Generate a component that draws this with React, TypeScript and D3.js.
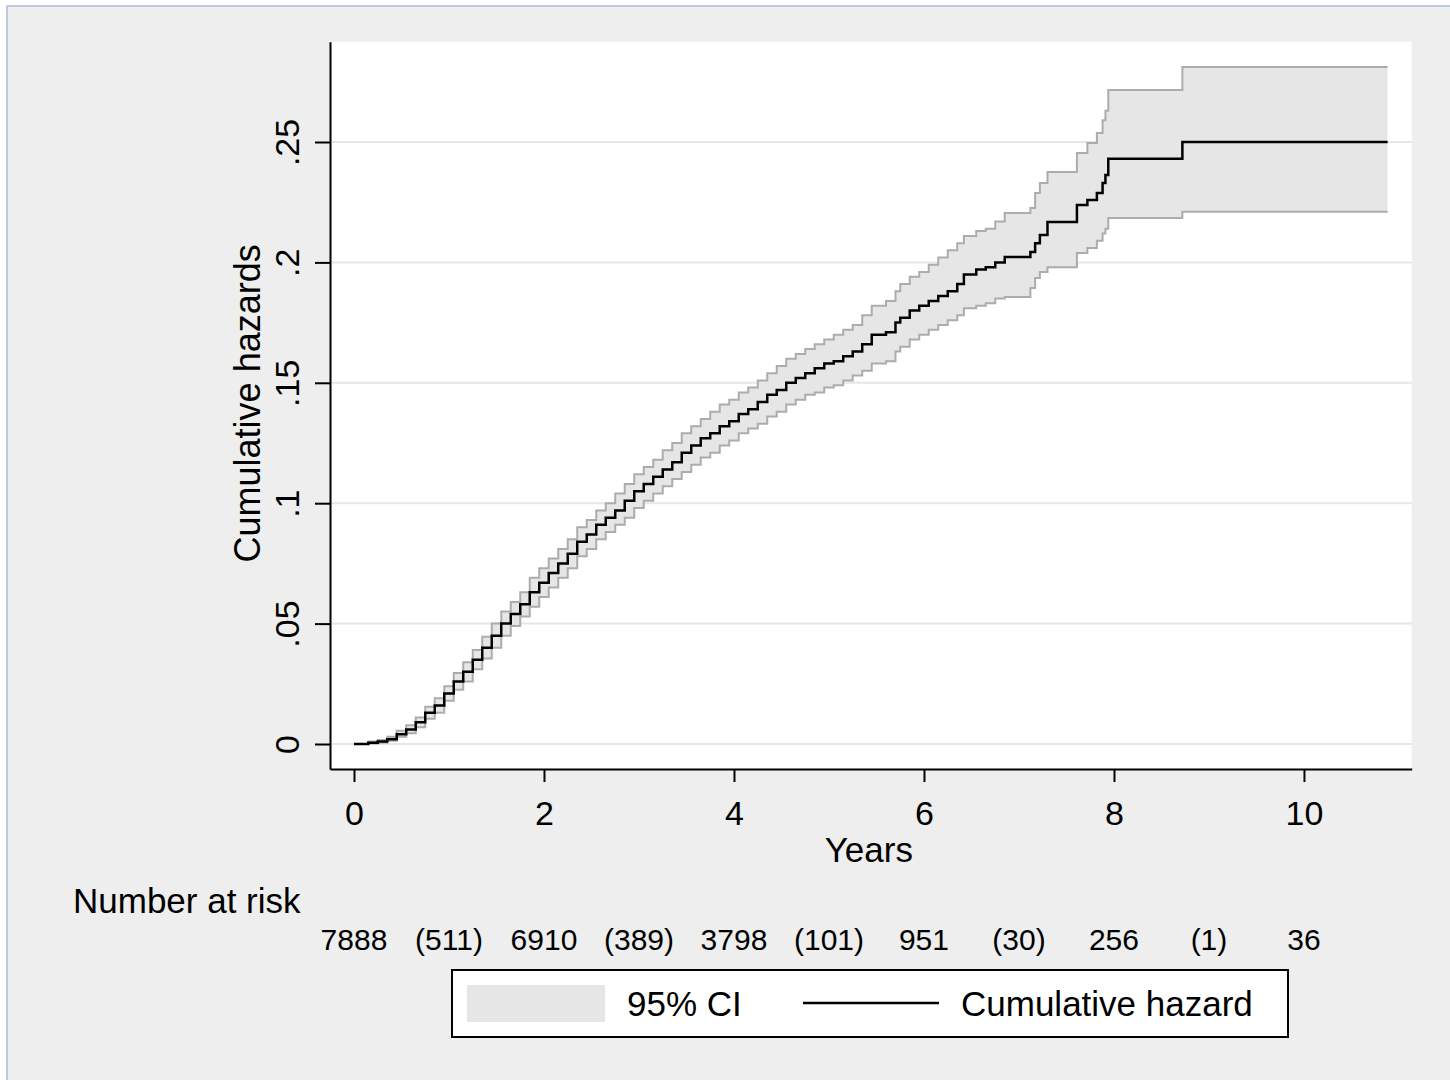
import React, { useRef, useEffect } from 'react';
import * as d3 from 'd3';

// Nelson-Aalen cumulative hazard
const years = [
  0.0, 0.15, 0.25, 0.35, 0.45, 0.55, 0.65, 0.75, 0.85, 0.95,
  1.05, 1.15, 1.25, 1.35, 1.45, 1.55, 1.65, 1.75, 1.85, 1.95,
  2.05, 2.15, 2.25, 2.35, 2.45, 2.55, 2.65, 2.75, 2.85, 2.95,
  3.05, 3.15, 3.25, 3.35, 3.45, 3.55, 3.65, 3.75, 3.85, 3.95,
  4.05, 4.15, 4.25, 4.35, 4.45, 4.55, 4.65, 4.75, 4.85, 4.95,
  5.05, 5.15, 5.25, 5.35, 5.45, 5.6, 5.7, 5.75, 5.85, 5.95,
  6.05, 6.15, 6.25, 6.35, 6.42, 6.55, 6.65, 6.75, 6.85, 7.12,
  7.17, 7.22, 7.3, 7.61, 7.72, 7.82, 7.88, 7.91, 7.94, 8.72,
  10.88,
];

const cumHazard = [
  0.0, 0.0005, 0.001, 0.002, 0.004, 0.006, 0.009, 0.013, 0.016, 0.021,
  0.026, 0.03, 0.035, 0.04, 0.045, 0.05, 0.054, 0.058, 0.063, 0.067,
  0.071, 0.075, 0.079, 0.084, 0.087, 0.091, 0.094, 0.097, 0.101, 0.105,
  0.108, 0.111, 0.114, 0.117, 0.121, 0.124, 0.127, 0.129, 0.132, 0.134,
  0.137, 0.139, 0.142, 0.145, 0.147, 0.15, 0.152, 0.154, 0.156, 0.158,
  0.159, 0.161, 0.163, 0.166, 0.17, 0.171, 0.175, 0.177, 0.18, 0.182,
  0.184, 0.186, 0.188, 0.191, 0.195, 0.197, 0.198, 0.2, 0.2022, 0.2043,
  0.208, 0.2114, 0.2168, 0.2238, 0.2259, 0.2288, 0.233, 0.2363, 0.243, 0.25,
  0.25,
];

const ciLower = [
  0.0, 0.0002, 0.0005, 0.0013, 0.003, 0.0045, 0.007, 0.0105, 0.013, 0.018,
  0.0225, 0.026, 0.031, 0.0355, 0.04, 0.045, 0.049, 0.053, 0.057, 0.061,
  0.065, 0.069, 0.073, 0.078, 0.081, 0.085, 0.088, 0.091, 0.094, 0.098,
  0.101, 0.104, 0.107, 0.11, 0.113, 0.116, 0.119, 0.121, 0.124, 0.126,
  0.129, 0.131, 0.133, 0.136, 0.138, 0.141, 0.143, 0.145, 0.146, 0.148,
  0.149, 0.151, 0.153, 0.155, 0.158, 0.159, 0.163, 0.165, 0.168, 0.17,
  0.172, 0.174, 0.176, 0.178, 0.181, 0.182, 0.183, 0.185, 0.1856, 0.1894,
  0.1935, 0.196, 0.198, 0.2039, 0.206, 0.209, 0.212, 0.214, 0.2184, 0.221,
  0.221,
];

const ciUpper = [
  0.0, 0.001, 0.0017, 0.003, 0.0055, 0.0078, 0.011, 0.0155, 0.019, 0.024,
  0.0295, 0.034, 0.039, 0.0445, 0.05, 0.055, 0.059, 0.063, 0.069, 0.073,
  0.077, 0.081, 0.085, 0.09, 0.093, 0.097, 0.1, 0.104, 0.108, 0.112,
  0.115, 0.118, 0.122, 0.125, 0.129, 0.132, 0.135, 0.138, 0.141, 0.143,
  0.146, 0.148, 0.151, 0.154, 0.157, 0.16, 0.162, 0.164, 0.166, 0.168,
  0.17, 0.172, 0.174, 0.178, 0.182, 0.184, 0.188, 0.191, 0.194, 0.196,
  0.199, 0.202, 0.205, 0.208, 0.211, 0.213, 0.214, 0.217, 0.2205, 0.2226,
  0.2288, 0.233, 0.2375, 0.2454, 0.2496, 0.2537, 0.259, 0.263, 0.2716, 0.2811,
  0.2811,
];

// number at risk table
const riskYears = [0, 2, 4, 6, 8, 10];
const atRisk = [7888, 6910, 3798, 951, 256, 36];
const censorYears = [1, 3, 5, 7, 9];
const censored = [511, 389, 101, 30, 1];

const xTicks = [0, 2, 4, 6, 8, 10];
const yTicks = [0, 0.05, 0.1, 0.15, 0.2, 0.25];
const yTickLabels = ['0', '.05', '.1', '.15', '.2', '.25'];

const W = 1450;
const H = 1080;
const FONT = '"Liberation Sans", Arial, sans-serif';

const App = () => {
  const ref = useRef<SVGSVGElement>(null);

  useEffect(() => {
    const svg = d3.select(ref.current);
    svg.selectAll('*').remove();

    // page background + thin window border
    svg.append('rect').attr('width', W).attr('height', H).attr('fill', '#ffffff');
    svg.append('rect')
      .attr('x', 7).attr('y', 6)
      .attr('width', W - 7).attr('height', H - 6)
      .attr('fill', '#eeeeee');
    svg.append('path')
      .attr('d', `M7,${H} V6 H${W}`)
      .attr('fill', 'none')
      .attr('stroke', '#a9bdd8')
      .attr('stroke-width', 1.5);

    const plot = { left: 330, right: 1411.7, top: 41.7, bottom: 769 };
    const x = d3.scaleLinear().domain([-0.2526, 11.134]).range([plot.left, plot.right]);
    const y = d3.scaleLinear().domain([-0.01038, 0.29165]).range([plot.bottom, plot.top]);

    svg.append('rect')
      .attr('x', plot.left).attr('y', plot.top)
      .attr('width', plot.right - plot.left).attr('height', plot.bottom - plot.top)
      .attr('fill', '#ffffff');

    // gridlines
    svg.append('g')
      .selectAll('line')
      .data(yTicks)
      .enter()
      .append('line')
      .attr('x1', plot.left).attr('x2', plot.right)
      .attr('y1', d => y(d)).attr('y2', d => y(d))
      .attr('stroke', '#e6e6e6')
      .attr('stroke-width', 2);

    const data = years.map((t, i) => ({ t, h: cumHazard[i], lo: ciLower[i], hi: ciUpper[i] }));

    const area = d3.area<any>()
      .x(d => x(d.t))
      .y0(d => y(d.lo))
      .y1(d => y(d.hi))
      .curve(d3.curveStepAfter);

    svg.append('path')
      .datum(data)
      .attr('fill', '#e6e6e6')
      .attr('d', area);

    const bound = (key: 'lo' | 'hi') => d3.line<any>()
      .x(d => x(d.t))
      .y(d => y(d[key]))
      .curve(d3.curveStepAfter);

    ['lo', 'hi'].forEach(k => {
      svg.append('path')
        .datum(data)
        .attr('fill', 'none')
        .attr('stroke', '#acacac')
        .attr('stroke-width', 2)
        .attr('d', bound(k as 'lo' | 'hi'));
    });

    const hazardLine = d3.line<any>()
      .x(d => x(d.t))
      .y(d => y(d.h))
      .curve(d3.curveStepAfter);

    svg.append('path')
      .datum(data)
      .attr('fill', 'none')
      .attr('stroke', '#000000')
      .attr('stroke-width', 2.5)
      .attr('d', hazardLine);

    // axes
    const yAxis = d3.axisLeft(y)
      .tickValues(yTicks)
      .tickSize(15)
      .tickSizeOuter(0)
      .tickFormat((d, i) => yTickLabels[i]);
    const gy = svg.append('g')
      .attr('transform', `translate(${plot.left},0)`)
      .call(yAxis);
    gy.selectAll('text')
      .attr('x', 0).attr('y', 0).attr('dy', 0)
      .attr('text-anchor', 'middle')
      .attr('transform', `translate(-31,0) rotate(-90)`)
      .style('font-family', FONT)
      .style('font-size', '34px')
      .style('fill', '#000');

    const xAxis = d3.axisBottom(x)
      .tickValues(xTicks)
      .tickSize(13)
      .tickSizeOuter(0)
      .tickFormat(d3.format('d'));
    const gx = svg.append('g')
      .attr('transform', `translate(0,${plot.bottom})`)
      .call(xAxis);
    gx.selectAll('text')
      .attr('y', 56).attr('dy', 0)
      .style('font-family', FONT)
      .style('font-size', '34px')
      .style('fill', '#000');

    svg.selectAll('.domain').attr('stroke', '#000').attr('stroke-width', 2);
    svg.selectAll('.tick line').attr('stroke', '#000').attr('stroke-width', 2);

    // axis titles
    svg.append('text')
      .attr('transform', `translate(260,${(plot.top + plot.bottom) / 2 - 2}) rotate(-90)`)
      .attr('text-anchor', 'middle')
      .style('font-family', FONT)
      .style('font-size', '36px')
      .text('Cumulative hazards');

    svg.append('text')
      .attr('x', (plot.left + plot.right) / 2 - 2)
      .attr('y', 862)
      .attr('text-anchor', 'middle')
      .style('font-family', FONT)
      .style('font-size', '35px')
      .text('Years');

    // number at risk
    svg.append('text')
      .attr('x', 73).attr('y', 913)
      .style('font-family', FONT)
      .style('font-size', '35px')
      .text('Number at risk');

    const riskRow = svg.append('g')
      .style('font-family', FONT)
      .style('font-size', '30px')
      .attr('text-anchor', 'middle');
    riskRow.selectAll('.n')
      .data(riskYears)
      .enter()
      .append('text')
      .attr('x', d => x(d))
      .attr('y', 950)
      .text((d, i) => atRisk[i]);
    riskRow.selectAll('.c')
      .data(censorYears)
      .enter()
      .append('text')
      .attr('x', d => x(d))
      .attr('y', 950)
      .text((d, i) => `(${censored[i]})`);

    // legend
    const lg = svg.append('g');
    lg.append('rect')
      .attr('x', 452).attr('y', 970)
      .attr('width', 836).attr('height', 67)
      .attr('fill', '#ffffff')
      .attr('stroke', '#000')
      .attr('stroke-width', 2);
    lg.append('rect')
      .attr('x', 467).attr('y', 985)
      .attr('width', 138).attr('height', 37)
      .attr('fill', '#e6e6e6');
    lg.append('text')
      .attr('x', 627).attr('y', 1016)
      .style('font-family', FONT)
      .style('font-size', '35px')
      .text('95% CI');
    lg.append('line')
      .attr('x1', 803).attr('x2', 939)
      .attr('y1', 1003).attr('y2', 1003)
      .attr('stroke', '#000')
      .attr('stroke-width', 2.5);
    lg.append('text')
      .attr('x', 961).attr('y', 1016)
      .style('font-family', FONT)
      .style('font-size', '35px')
      .text('Cumulative hazard');
  }, []);

  return (
    <svg
      ref={ref}
      width={W}
      height={H}
      style={{ position: 'absolute', left: 0, top: 0, display: 'block' }}
    />
  );
};

export default App;
